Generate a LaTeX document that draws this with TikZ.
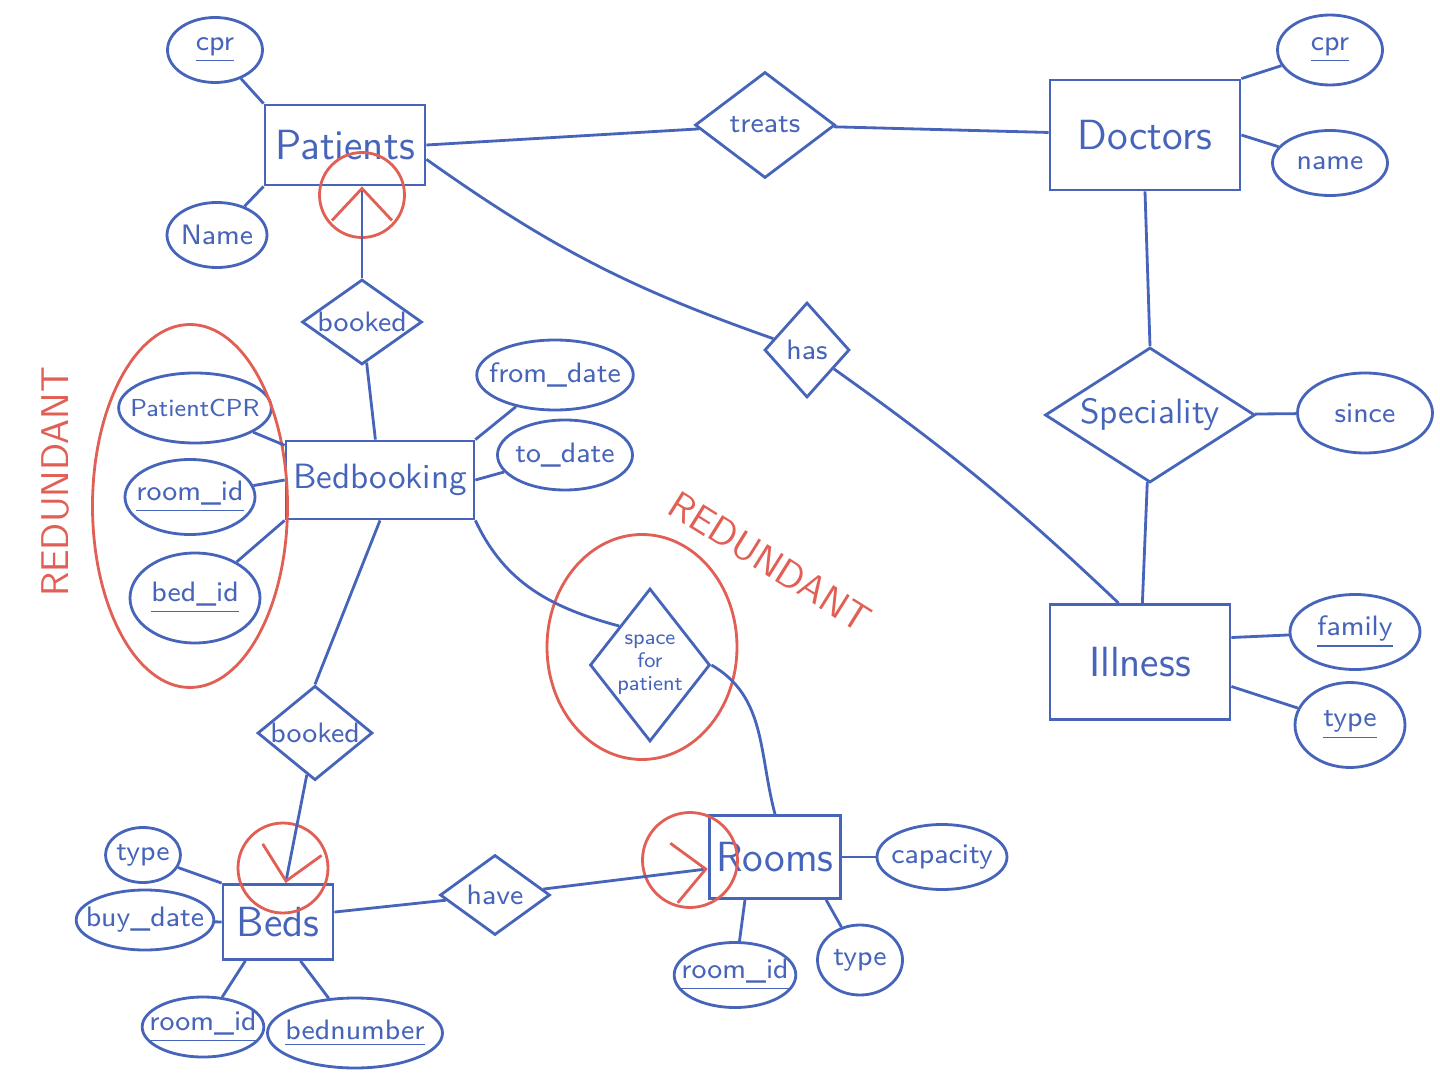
\documentclass[tikz,border=0pt]{standalone}
\usepackage{tikz}
\usepackage{xcolor}
\usetikzlibrary{shapes.geometric, arrows.meta}

\definecolor{inkblue}{RGB}{70,100,185}
\definecolor{inkred}{RGB}{225,95,85}

\begin{document}
\begin{tikzpicture}[
  entity/.style={draw=inkblue, thick, rectangle, text=inkblue, font=\sffamily\large, inner sep=2pt},
  attr/.style={draw=inkblue, thick, ellipse, text=inkblue, font=\sffamily\footnotesize, inner xsep=-3pt, inner ysep=0pt},
  rel/.style={draw=inkblue, thick, diamond, text=inkblue, font=\sffamily\footnotesize, inner sep=0pt},
  link/.style={draw=inkblue, thick},
  card/.style={draw=inkblue, thick, -{Straight Barb[color=inkred, length=3.2mm, width=6mm]}},
  ring/.style={draw=inkred, thick, circle, inner sep=0pt},
  note/.style={text=inkred, font=\sffamily\fontsize{11}{13}\selectfont}]
  \useasboundingbox (0,0) rectangle (14.4,-10.77);

  % Patients
  \node[attr, minimum width=0.95cm, minimum height=0.65cm] (pcpr) at (2.15,-0.50) {\underline{cpr}};
  \node[entity, minimum width=1.6cm, minimum height=0.8cm] (patients) at (3.45,-1.45) {Patients};
  \node[attr, minimum width=1.0cm, minimum height=0.65cm] (pname) at (2.17,-2.35) {Name};

  % Doctors
  \node[rel, aspect=1.3, minimum width=1.4cm, minimum height=1.06cm] (treats) at (7.65,-1.25) {treats};
  \node[entity, minimum width=1.9cm, minimum height=1.1cm] (doctors) at (11.45,-1.35) {Doctors};
  \node[attr, minimum width=1.05cm, minimum height=0.7cm] (dcpr) at (13.30,-0.50) {\underline{cpr}};
  \node[attr, minimum width=1.15cm, minimum height=0.65cm] (dname) at (13.30,-1.63) {name};

  % Illness
  \node[rel, aspect=1.55, font=\sffamily\normalsize, minimum width=2.1cm, minimum height=1.35cm] (spec) at (11.50,-4.15) {Speciality};
  \node[attr, minimum width=1.35cm, minimum height=0.8cm] (since) at (13.65,-4.13) {since};
  \node[entity, minimum width=1.8cm, minimum height=1.15cm] (illness) at (11.40,-6.62) {Illness};
  \node[attr, minimum width=1.3cm, minimum height=0.75cm] (family) at (13.55,-6.32) {\underline{family}};
  \node[attr, minimum width=1.1cm, minimum height=0.85cm] (itype) at (13.50,-7.25) {\underline{type}};
  \node[rel, minimum width=0.85cm, minimum height=0.95cm] (has) at (8.07,-3.50) {has};

  % Bedbooking
  \node[rel, aspect=1.4, minimum width=1.2cm, minimum height=0.85cm] (bookedP) at (3.62,-3.22) {booked};
  \node[entity, font=\sffamily\normalsize, minimum width=1.82cm, minimum height=0.78cm] (bedbooking) at (3.80,-4.80) {Bedbooking};
  \node[attr, font=\sffamily\scriptsize, minimum width=1.45cm, minimum height=0.7cm] (bcpr) at (1.95,-4.08) {PatientCPR};
  \node[attr, minimum width=1.3cm, minimum height=0.75cm] (broom) at (1.90,-4.97) {\underline{room\_id}};
  \node[attr, minimum width=1.3cm, minimum height=0.9cm] (bbed) at (1.95,-5.98) {\underline{bed\_id}};
  \node[attr, minimum width=1.5cm, minimum height=0.7cm] (from) at (5.55,-3.75) {from\_date};
  \node[attr, minimum width=1.35cm, minimum height=0.7cm] (to) at (5.65,-4.55) {to\_date};
  \node[rel, aspect=0.8, font=\sffamily\fontsize{6}{6.5}\selectfont, align=center, minimum width=1.2cm, minimum height=1.53cm] (space) at (6.50,-6.65) {space\\for\\patient};

  % Beds
  \node[rel, aspect=1.2, minimum width=1.15cm, minimum height=0.93cm] (bookedB) at (3.15,-7.33) {booked};
  \node[entity, minimum width=1.1cm, minimum height=0.75cm] (beds) at (2.78,-9.22) {Beds};
  \node[attr, minimum width=0.75cm, minimum height=0.55cm] (btype) at (1.43,-8.55) {type};
  \node[attr, minimum width=1.25cm, minimum height=0.6cm] (buy) at (1.45,-9.20) {buy\_date};
  \node[attr, minimum width=1.1cm, minimum height=0.6cm] (bdroom) at (2.03,-10.27) {\underline{room\_id}};
  \node[attr, minimum width=1.75cm, minimum height=0.7cm] (bnum) at (3.55,-10.33) {\underline{bednumber}};
  \node[rel, aspect=1.4, minimum width=1.1cm, minimum height=0.8cm] (have) at (4.95,-8.95) {have};

  % Rooms
  \node[entity, minimum width=1.3cm, minimum height=0.83cm] (rooms) at (7.75,-8.57) {Rooms};
  \node[attr, minimum width=1.3cm, minimum height=0.65cm] (cap) at (9.42,-8.57) {capacity};
  \node[attr, minimum width=1.2cm, minimum height=0.65cm] (rroom) at (7.35,-9.75) {\underline{room\_id}};
  \node[attr, minimum width=0.85cm, minimum height=0.7cm] (rtype) at (8.60,-9.60) {type};

  % red marks
  \node[ring, minimum size=0.85cm] (ringP) at (3.62,-1.95) {};
  \node[ring, minimum size=0.9cm] (ringB) at (2.83,-8.68) {};
  \node[ring, minimum size=0.95cm] (ringR) at (6.90,-8.60) {};
  \node[ring, ellipse, minimum width=1.9cm, minimum height=2.25cm] (ringS) at (6.42,-6.47) {};
  \node[ring, ellipse, minimum width=1.95cm, minimum height=3.63cm] (ringA) at (1.90,-5.06) {};
  \node[note, rotate=90] (redA) at (0.55,-4.82) {REDUNDANT};
  \node[note, rotate=-32] (redS) at (7.70,-5.62) {REDUNDANT};

  % links
  \draw[link] (pcpr) -- (patients.north west);
  \draw[link] (pname) -- (patients.south west);
  \draw[link] (patients.east) -- (treats);
  \draw[link] (treats) -- (doctors);
  \draw[link] (patients.-10) to[bend right=8] (has);
  \draw[link] (has) to[bend left=4] (illness.110);
  \draw[link] (doctors.north east) -- (dcpr);
  \draw[link] (doctors.east) -- (dname);
  \draw[link] (doctors.south) -- (spec.north);
  \draw[link] (spec) -- (since);
  \draw[link] (spec) -- (illness);
  \draw[link] (illness.15) -- (family);
  \draw[link] (illness.-15) -- (itype);

  \draw[link] (bedbooking) -- (bookedP);
  \draw[card] (bookedP) -- (bookedP |- patients.south);
  \draw[link] (bcpr) -- (bedbooking.160);
  \draw[link] (broom) -- (bedbooking.west);
  \draw[link] (bbed) -- (bedbooking.south west);
  \draw[link] (bedbooking.north east) -- (from);
  \draw[link] (bedbooking.east) -- (to);
  \draw[link] (bedbooking.south) -- (bookedB.north);
  \draw[link] (bedbooking.south east) to[out=-65, in=165] (space.north west);
  \draw[link] (space.east) to[out=-30, in=105] (rooms.north);

  \draw[card] (bookedB) -- (beds);
  \draw[link] (btype) -- (beds.north west);
  \draw[link] (buy) -- (beds.west);
  \draw[link] (bdroom) -- (beds.-130);
  \draw[link] (beds.-60) -- (bnum);
  \draw[link] (beds.10) -- (have);
  \draw[card] (have) -- (rooms.190);
  \draw[link] (rooms.east) -- (cap);
  \draw[link] (rooms.-125) -- (rroom);
  \draw[link] (rooms.-40) -- (rtype);
\end{tikzpicture}
\end{document}
